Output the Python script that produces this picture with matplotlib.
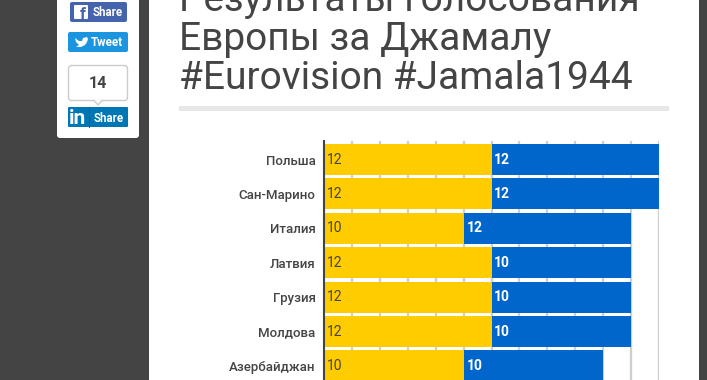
import numpy as np
import matplotlib
matplotlib.use('Agg')
import matplotlib.pyplot as plt
from matplotlib.patches import FancyBboxPatch, Polygon, Rectangle

countries = ['Польша', 'Сан-Марино', 'Италия', 'Латвия', 'Грузия', 'Молдова', 'Азербайджан']
jury = [12, 12, 10, 12, 12, 12, 10]
public = [12, 12, 12, 10, 10, 10, 10]
grid_ticks = [0, 2, 4, 6, 8, 10, 12, 14, 16, 18, 20, 22, 24]

title_lines = ['Результаты голосования', 'Европы за Джамалу', '#Eurovision #Jamala1944']
title_baselines = [11, 50, 89]
share_count = '14'

DARK = '#444444'
W, H = 707, 380

plt.rcParams['font.family'] = ['Roboto', 'DejaVu Sans']

def rounded(ax, x0, y0, x1, y1, color, edge='none', r=2, lw=0):
    ax.add_patch(FancyBboxPatch((x0 + r, y0 + r), x1 - x0 - 2*r, y1 - y0 - 2*r,
                                boxstyle='round,pad=%g,rounding_size=%g' % (r, r),
                                fc=color, ec=edge, lw=lw))

def draw_page(ax):
    # page furniture in pixel coordinates
    ax.set_xlim(0, W)
    ax.set_ylim(H, 0)
    ax.set_axis_off()
    ax.add_patch(Rectangle((0, 0), 149, H, fc=DARK, ec='none'))
    ax.add_patch(Rectangle((699, 0), 8, H, fc=DARK, ec='none'))
    ax.add_patch(Rectangle((57, -6), 82, 140, fc='white', ec='none'))
    rounded(ax, 57, 120, 139, 138, 'white', r=3)

    # facebook
    rounded(ax, 70, 2, 127, 22, '#4464ad')
    rounded(ax, 74, 5, 88, 19, 'white', r=1)
    ax.text(82.5, 19, 'f', color='#4464ad', fontsize=12, fontweight='bold', ha='center', va='baseline')
    ax.text(93, 12, 'Share', color='white', fontsize=8.3, fontweight='bold', ha='left', va='center')

    # twitter
    rounded(ax, 68, 32, 128, 52, '#1b95e0')
    ax.add_patch(Polygon([(75, 38), (79, 41), (82, 41), (83, 38), (87, 37), (88, 39),
                          (87, 42), (85, 45), (81, 47), (76, 47), (79, 45), (76, 42)],
                         fc='white', ec='none'))
    ax.text(91, 42, 'Tweet', color='white', fontsize=8.3, fontweight='bold', ha='left', va='center')

    # share counter
    rounded(ax, 68.5, 65.5, 127.5, 100.5, 'white', edge='#cccccc', r=3, lw=1)
    ax.add_patch(Polygon([(94, 100), (98, 105), (102, 100)], fc='white', ec='none', zorder=3))
    ax.plot([94, 98, 102], [100.5, 105, 100.5], color='#cccccc', lw=1, zorder=3)
    ax.text(98, 83.5, share_count, color=DARK, fontsize=11.5, fontweight='bold', ha='center', va='center')

    # linkedin
    rounded(ax, 68, 107, 128, 127, '#0077b5', r=1)
    ax.plot([88.5, 88.5], [107, 127], color='#00669c', lw=0.8)
    ax.text(78, 124, 'in', color='white', fontsize=15, fontweight='bold', ha='center', va='baseline')
    ax.text(94, 118, 'Share', color='white', fontsize=8.3, fontweight='bold', ha='left', va='center')

    # heading, the first line runs off the top of the crop
    for line, y in zip(title_lines, title_baselines):
        ax.text(179, y, line, color=DARK, fontsize=28, ha='left', va='baseline')
    ax.add_patch(Rectangle((179, 106), 490, 5, fc='#e7e7e7', ec='none'))

fig = plt.figure(figsize=(W/100, H/100), dpi=100, facecolor='white')
page = fig.add_axes([0, 0, 1, 1])
draw_page(page)

# chart axes: 324..659 px wide, 141..380 px tall
ax = fig.add_axes([324.0/W, 0, 335.0/W, 239.0/H])
ax.patch.set_alpha(0)
y = np.arange(len(countries))
ax.barh(y, jury, height=0.9, color='#ffcc00', zorder=2)
ax.barh(y, public, left=jury, height=0.9, color='#0066cc', zorder=2)

ax.set_xlim(0, 24)
ax.set_ylim(6.41, -0.54)
ax.set_xticks(grid_ticks)
ax.xaxis.grid(True, color='#cfcfcf', lw=1.6, zorder=1)
ax.set_axisbelow(True)
ax.tick_params(axis='x', length=0, labelbottom=False)
ax.tick_params(axis='y', length=0, pad=6.2)
ax.set_yticks(y)
ax.set_yticklabels(countries, fontsize=9.5, fontweight='medium', color=DARK, va='center_baseline')
for side in ['top', 'right', 'bottom']:
    ax.spines[side].set_visible(False)
ax.spines['left'].set_color(DARK)
ax.spines['left'].set_linewidth(1.5)
ax.spines['left'].set_zorder(4)

for i in y:
    ax.annotate(str(jury[i]), (0, i), xytext=(2, 0), textcoords='offset points',
                color=DARK, fontsize=10, va='center', ha='left', zorder=5)
    ax.annotate(str(public[i]), (jury[i], i), xytext=(2, 0), textcoords='offset points',
                color='white', fontsize=10, fontweight='bold', va='center', ha='left', zorder=5)

fig.savefig('out.png', dpi=100)
